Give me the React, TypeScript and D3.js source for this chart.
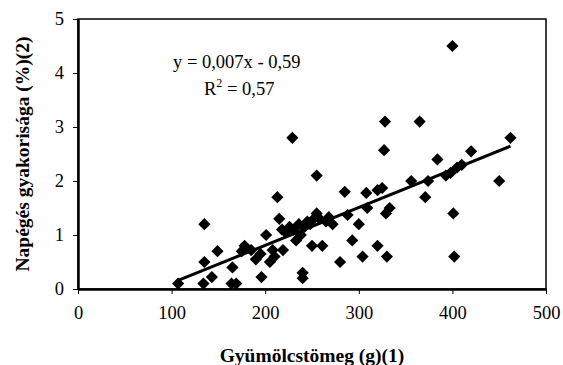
import * as React from 'react';
import * as d3 from 'd3';

// Gyümölcstömeg (g) vs napégés gyakorisága (%)
const mass = [
  107, 134, 135, 135, 143, 149, 164, 169, 165, 175, 178, 185, 190, 196, 195, 201, 205, 208, 210, 213,
  215, 219, 218, 222, 226, 229, 230, 233, 236, 238, 240, 240, 242, 245, 248, 250, 252, 255, 255, 258,
  261, 265, 268, 272, 280, 285, 288, 293, 300, 304, 308, 309, 320, 320, 325, 327, 328, 329, 330, 333,
  356, 365, 371, 374, 384, 393, 398, 400, 401, 402, 405, 410, 420, 450, 462,
];
const sunburn = [
  0.1, 0.1, 0.5, 1.2, 0.22, 0.7, 0.1, 0.1, 0.4, 0.7, 0.8, 0.72, 0.55, 0.22, 0.65, 1.0, 0.5, 0.72, 0.6, 1.7,
  1.3, 0.72, 1.1, 1.05, 1.15, 2.8, 1.1, 0.9, 1.2, 1.0, 0.3, 0.2, 1.15, 1.25, 1.2, 0.8, 1.3, 1.4, 2.1, 1.3,
  0.8, 1.25, 1.33, 1.2, 0.5, 1.8, 1.37, 0.9, 1.2, 0.6, 1.78, 1.5, 0.8, 1.83, 1.87, 2.57, 3.1, 1.4, 0.6, 1.5,
  2.0, 3.1, 1.7, 2.0, 2.4, 2.1, 2.15, 4.5, 1.4, 0.6, 2.25, 2.3, 2.55, 2.0, 2.8,
];
const xTicks = [0, 100, 200, 300, 400, 500];
const yTicks = [0, 1, 2, 3, 4, 5];
const slope = 0.007;
const intercept = -0.59;
const eqLabel = 'y = 0,007x - 0,59';
const xTitle = 'Gyümölcstömeg (g)(1)';
const yTitle = 'Napégés gyakorisága (%)(2)';

const App = () => {
  const ref = React.useRef<SVGSVGElement>(null);

  React.useEffect(() => {
    const width = 563;
    const height = 365;
    const left = 78, right = 546, top = 19, bottom = 289;
    const font = '"Liberation Serif", "Times New Roman", serif';

    const svg = d3.select(ref.current).attr('width', width).attr('height', height);
    svg.selectAll('*').remove();

    const x = d3.scaleLinear().domain([0, 500]).range([left, right]);
    const y = d3.scaleLinear().domain([0, 5]).range([bottom, top]);

    // frame
    svg.append('rect')
      .attr('x', left).attr('y', top)
      .attr('width', right - left).attr('height', bottom - top)
      .attr('fill', 'none').attr('stroke', '#000').attr('stroke-width', 1.5);

    const xAxis = svg.append('g')
      .attr('transform', `translate(0,${bottom})`)
      .call(d3.axisBottom(x).tickValues(xTicks).tickFormat(d3.format('d')).tickSize(5).tickPadding(12).tickSizeOuter(0));
    const yAxis = svg.append('g')
      .attr('transform', `translate(${left},0)`)
      .call(d3.axisLeft(y).tickValues(yTicks).tickFormat(d3.format('d')).tickSize(5).tickPadding(9).tickSizeOuter(0));

    [xAxis, yAxis].forEach(a => {
      a.select('.domain').attr('stroke', '#000').attr('stroke-width', 2.5);
      a.selectAll('.tick line').attr('stroke', '#000').attr('stroke-width', 1);
      a.selectAll('.tick text')
        .attr('font-family', font).attr('font-size', 18.5).attr('fill', '#000');
    });

    // points
    const diamond = d3.symbol().type(d3.symbolDiamond2).size(95)();
    svg.append('g')
      .selectAll('path')
      .data(mass.map((m, i) => [m, sunburn[i]]))
      .enter().append('path')
      .attr('d', diamond)
      .attr('transform', d => `translate(${x(d[0])},${y(d[1])})`)
      .attr('fill', '#000');

    // trend line
    const [xmin, xmax] = d3.extent(mass) as [number, number];
    svg.append('line')
      .attr('x1', x(xmin)).attr('y1', y(slope * xmin + intercept))
      .attr('x2', x(xmax)).attr('y2', y(slope * xmax + intercept))
      .attr('stroke', '#000').attr('stroke-width', 3);

    // equation
    svg.append('text')
      .attr('x', 173).attr('y', 68)
      .attr('font-family', font).attr('font-size', 18.5)
      .text(eqLabel);
    const r2 = svg.append('text')
      .attr('x', 204).attr('y', 95)
      .attr('font-family', font).attr('font-size', 18.5);
    r2.append('tspan').text('R');
    r2.append('tspan').attr('font-size', 12).attr('dy', -8).text('2');
    r2.append('tspan').attr('dy', 8).text(' = 0,57');

    // titles
    svg.append('text')
      .attr('x', (left + right) / 2).attr('y', 362)
      .attr('text-anchor', 'middle')
      .attr('font-family', font).attr('font-size', 19.5).attr('font-weight', 'bold')
      .text(xTitle);
    svg.append('text')
      .attr('transform', `translate(29,${(top + bottom) / 2}) rotate(-90)`)
      .attr('text-anchor', 'middle')
      .attr('font-family', font).attr('font-size', 19.5).attr('font-weight', 'bold')
      .text(yTitle);
  }, []);

  return <svg ref={ref} style={{ position: 'absolute', left: 0, top: 0 }}></svg>;
};

export default App;
